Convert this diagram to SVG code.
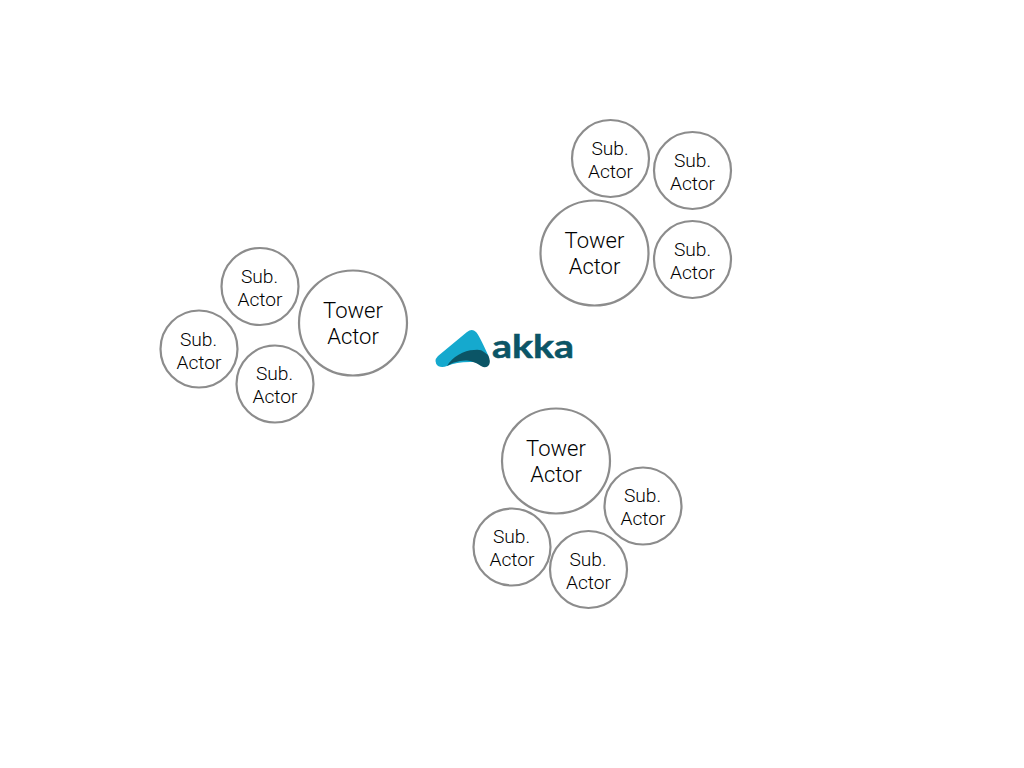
<svg xmlns="http://www.w3.org/2000/svg" width="1024" height="768" viewBox="0 0 1024 768">
<style>
.c{fill:#fff;stroke:#8c8c8c;stroke-width:2.2}
text{font-family:Roboto,"Liberation Sans",Arial,sans-serif;font-weight:300;fill:#000;text-anchor:middle}
.s{font-size:19.2px}
.t{font-size:22px}
.logo{font-family:Lato,"Liberation Sans",sans-serif;font-weight:700;font-size:33px;fill:#0b5566;text-anchor:start;stroke:#0b5566;stroke-width:.5}
</style>
<rect width="1024" height="768" fill="#fff"/>
<g id="tower-top"><ellipse class="c" cx="594.5" cy="253" rx="54" ry="52.5"/><text class="t" x="594.5" y="248">Tower</text><text class="t" x="594.5" y="274">Actor</text></g>
<g id="sub-top-1"><circle class="c" cx="610.5" cy="158.5" r="38.5"/><text class="s" x="610" y="155">Sub.</text><text class="s" x="610.5" y="178">Actor</text></g>
<g id="sub-top-2"><circle class="c" cx="692.5" cy="170.5" r="38.5"/><text class="s" x="692.5" y="167">Sub.</text><text class="s" x="692.5" y="190">Actor</text></g>
<g id="sub-top-3"><circle class="c" cx="692.5" cy="259.5" r="38.5"/><text class="s" x="692.5" y="256">Sub.</text><text class="s" x="692.5" y="279">Actor</text></g>
<g id="tower-left"><ellipse class="c" cx="353" cy="323" rx="54" ry="52.5"/><text class="t" x="353" y="318">Tower</text><text class="t" x="353" y="344">Actor</text></g>
<g id="sub-left-1"><circle class="c" cx="260" cy="286.5" r="38.5"/><text class="s" x="259.5" y="283">Sub.</text><text class="s" x="260" y="306">Actor</text></g>
<g id="sub-left-2"><circle class="c" cx="199" cy="349" r="38.5"/><text class="s" x="198.5" y="346">Sub.</text><text class="s" x="199" y="369">Actor</text></g>
<g id="sub-left-3"><circle class="c" cx="275" cy="384" r="38.5"/><text class="s" x="274.5" y="380">Sub.</text><text class="s" x="275" y="403">Actor</text></g>
<g id="tower-bottom"><ellipse class="c" cx="556" cy="461" rx="54" ry="52.5"/><text class="t" x="556" y="456">Tower</text><text class="t" x="556" y="482">Actor</text></g>
<g id="sub-bottom-1"><circle class="c" cx="643" cy="506" r="38.5"/><text class="s" x="642.5" y="502">Sub.</text><text class="s" x="643" y="525">Actor</text></g>
<g id="sub-bottom-2"><circle class="c" cx="512" cy="547" r="38.5"/><text class="s" x="511.5" y="543">Sub.</text><text class="s" x="512" y="566">Actor</text></g>
<g id="sub-bottom-3"><circle class="c" cx="588.5" cy="569.5" r="38.5"/><text class="s" x="588" y="566">Sub.</text><text class="s" x="588.5" y="589">Actor</text></g>
<g id="logo">
<path d="M438 356L467 332Q472 328 476 332Q479 335 488 355Q490 360 488 362L470 362Q456 362 447 366Q442 368 438 366Q433 361 438 356Z" fill="#15a9ce"/>
<path d="M447 366C452 357 464 350 474 350Q481 349 484 352L488 355Q491 361 489 365Q486 369 481 366C472 360 466 360 460 361Q453 362 447 366Z" fill="#0b5566"/>
<text class="logo" x="492" y="357.5" textLength="82" lengthAdjust="spacingAndGlyphs">akka</text>
</g>
</svg>
